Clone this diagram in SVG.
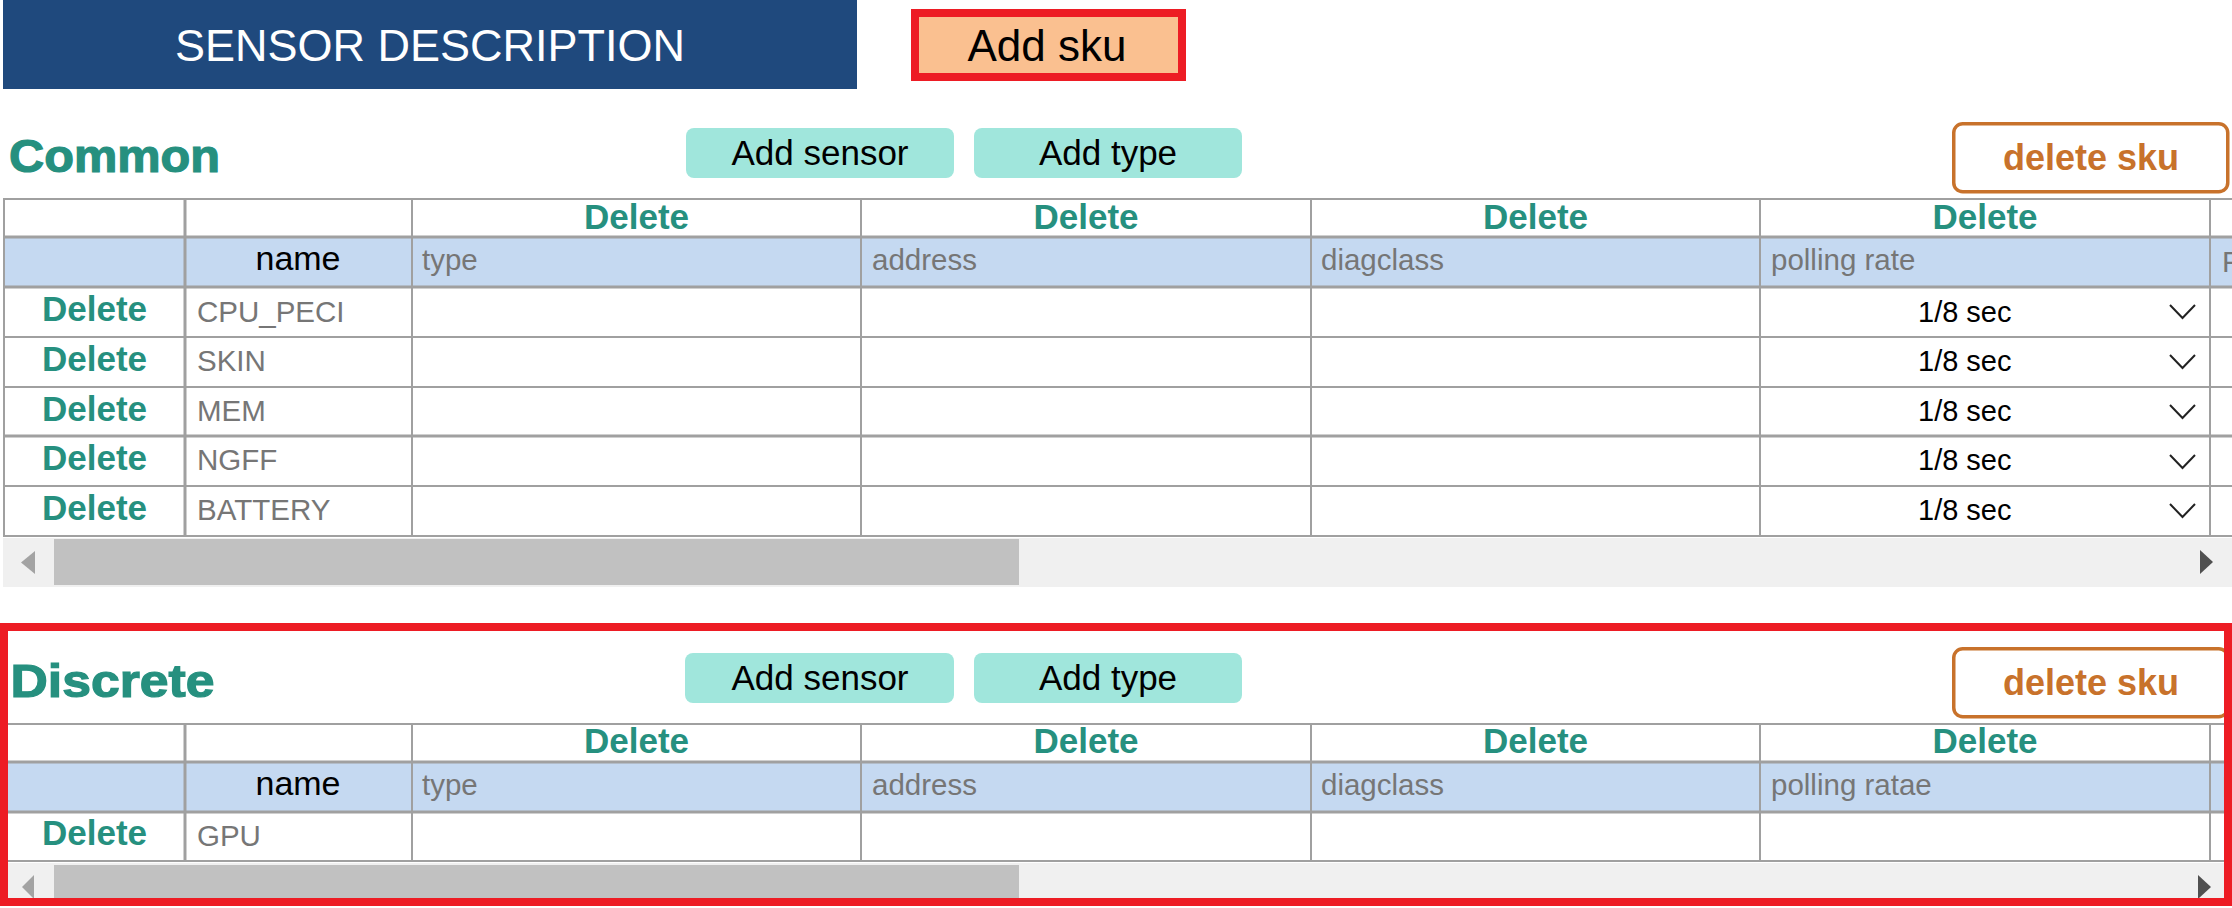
<svg xmlns="http://www.w3.org/2000/svg" width="2232" height="908" viewBox="0 0 2232 908">
<style>
text{font-family:"Liberation Sans",Arial,sans-serif}
.title{fill:#fff;font-size:45px;text-anchor:middle}
.btn{fill:#A0E6DC}
.btxt{fill:#000;font-size:35px;text-anchor:middle}
.sec{fill:#26907F;stroke:#26907F;stroke-width:1.2;font-size:46px;font-weight:bold}
.del{fill:#26907F;font-size:35px;font-weight:bold;text-anchor:middle}
.dsku{fill:#fff;stroke:#C8722B;stroke-width:3.5}
.dskut{fill:#C8722B;font-size:36px;font-weight:bold;text-anchor:middle}
.lbl{fill:#767676;font-size:29.5px}
.nm{fill:#000;font-size:34px;text-anchor:middle}
.val{fill:#000;font-size:29px}
.hdr{fill:#C5D9F1}
.g{stroke:#A0A0A0;stroke-width:2;fill:none}
.g3{stroke:#A0A0A0;stroke-width:3;fill:none}
.chev{stroke:#222;stroke-width:2;fill:none}
.track{fill:#F0F0F0}
.thumb{fill:#C1C1C1}
.la{fill:#A3A3A3}
.ra{fill:#505050}
</style>

<g id="title">
<rect x="3" y="0" width="854" height="89" fill="#1F497D"/>
<text class="title" x="430" y="61">SENSOR DESCRIPTION</text>
</g>

<g id="add-sku">
<rect x="915" y="13" width="267" height="64" fill="#FAC090" stroke="#ED1C24" stroke-width="8"/>
<text x="1047" y="61" font-size="44" text-anchor="middle" fill="#000">Add sku</text>
</g>

<!-- COMMON SECTION -->
<g id="common-title">
<text class="sec" x="9" y="172" textLength="211" lengthAdjust="spacingAndGlyphs">Common</text>
</g>
<g id="common-add-sensor">
<rect class="btn" x="686" y="128" width="268" height="50" rx="8"/>
<text class="btxt" x="820" y="165">Add sensor</text>
</g>
<g id="common-add-type">
<rect class="btn" x="974" y="128" width="268" height="50" rx="8"/>
<text class="btxt" x="1108" y="165">Add type</text>
</g>
<g id="common-delete-sku">
<rect class="dsku" x="1953.75" y="123.75" width="274" height="68" rx="9"/>
<text class="dskut" x="2091" y="170">delete sku</text>
</g>

<g id="common-table">
<rect class="hdr" x="4" y="237" width="2228" height="50"/>
<line class="g" x1="4" y1="199" x2="2232" y2="199"/>
<line class="g3" x1="4" y1="237" x2="2232" y2="237"/>
<line class="g3" x1="4" y1="287" x2="2232" y2="287"/>
<line class="g" x1="4" y1="337" x2="2232" y2="337"/>
<line class="g" x1="4" y1="387" x2="2232" y2="387"/>
<line class="g3" x1="4" y1="436" x2="2232" y2="436"/>
<line class="g" x1="4" y1="486" x2="2232" y2="486"/>
<line class="g" x1="4" y1="536" x2="2232" y2="536"/>
<line class="g" x1="4" y1="198" x2="4" y2="537"/>
<line class="g3" x1="185" y1="198" x2="185" y2="537"/>
<line class="g" x1="412" y1="198" x2="412" y2="537"/>
<line class="g" x1="861" y1="198" x2="861" y2="537"/>
<line class="g" x1="1311" y1="198" x2="1311" y2="537"/>
<line class="g" x1="1760" y1="198" x2="1760" y2="537"/>
<line class="g" x1="2210" y1="198" x2="2210" y2="537"/>
<text class="del" x="636.5" y="229">Delete</text>
<text class="del" x="1086" y="229">Delete</text>
<text class="del" x="1535.5" y="229">Delete</text>
<text class="del" x="1985" y="229">Delete</text>
<text class="nm" x="298" y="270">name</text>
<text class="lbl" x="422" y="270">type</text>
<text class="lbl" x="872" y="270">address</text>
<text class="lbl" x="1321" y="270">diagclass</text>
<text class="lbl" x="1771" y="270">polling rate</text>
<text class="lbl" x="2222" y="272">F</text>
<text class="del" x="94.5" y="321">Delete</text>
<text class="del" x="94.5" y="371">Delete</text>
<text class="del" x="94.5" y="421">Delete</text>
<text class="del" x="94.5" y="470">Delete</text>
<text class="del" x="94.5" y="520">Delete</text>
<text class="lbl" x="197" y="322">CPU_PECI</text>
<text class="lbl" x="197" y="371">SKIN</text>
<text class="lbl" x="197" y="421">MEM</text>
<text class="lbl" x="197" y="470">NGFF</text>
<text class="lbl" x="197" y="520">BATTERY</text>
<text class="val" x="1918" y="322">1/8 sec</text>
<text class="val" x="1918" y="371">1/8 sec</text>
<text class="val" x="1918" y="421">1/8 sec</text>
<text class="val" x="1918" y="470">1/8 sec</text>
<text class="val" x="1918" y="520">1/8 sec</text>
<polyline class="chev" points="2170,305 2182.5,318 2195,305"/>
<polyline class="chev" points="2170,355 2182.5,368 2195,355"/>
<polyline class="chev" points="2170,405 2182.5,418 2195,405"/>
<polyline class="chev" points="2170,455 2182.5,468 2195,455"/>
<polyline class="chev" points="2170,504 2182.5,517 2195,504"/>
</g>

<g id="common-scrollbar">
<rect class="track" x="3" y="538" width="2229" height="49"/>
<rect class="thumb" x="54" y="539" width="965" height="46"/>
<polygon class="la" points="35,551 21,562.5 35,574"/>
<polygon class="ra" points="2200,550 2213,562 2200,574"/>
</g>

<!-- DISCRETE SECTION -->
<g id="discrete-title">
<text class="sec" x="10.5" y="697" textLength="204" lengthAdjust="spacingAndGlyphs">Discrete</text>
</g>
<g id="discrete-add-sensor">
<rect class="btn" x="685" y="653" width="269" height="50" rx="8"/>
<text class="btxt" x="820" y="690">Add sensor</text>
</g>
<g id="discrete-add-type">
<rect class="btn" x="974" y="653" width="268" height="50" rx="8"/>
<text class="btxt" x="1108" y="690">Add type</text>
</g>
<g id="discrete-delete-sku">
<rect class="dsku" x="1953.75" y="648.75" width="274" height="68" rx="9"/>
<text class="dskut" x="2091" y="695">delete sku</text>
</g>

<g id="discrete-table">
<rect class="hdr" x="4" y="762" width="2228" height="50"/>
<line class="g" x1="4" y1="724" x2="2232" y2="724"/>
<line class="g3" x1="4" y1="762" x2="2232" y2="762"/>
<line class="g3" x1="4" y1="812" x2="2232" y2="812"/>
<line class="g" x1="4" y1="861" x2="2232" y2="861"/>
<line class="g3" x1="185" y1="723" x2="185" y2="862"/>
<line class="g" x1="412" y1="723" x2="412" y2="862"/>
<line class="g" x1="861" y1="723" x2="861" y2="862"/>
<line class="g" x1="1311" y1="723" x2="1311" y2="862"/>
<line class="g" x1="1760" y1="723" x2="1760" y2="862"/>
<line class="g" x1="2210" y1="723" x2="2210" y2="862"/>
<text class="del" x="636.5" y="753">Delete</text>
<text class="del" x="1086" y="753">Delete</text>
<text class="del" x="1535.5" y="753">Delete</text>
<text class="del" x="1985" y="753">Delete</text>
<text class="nm" x="298" y="795">name</text>
<text class="lbl" x="422" y="795">type</text>
<text class="lbl" x="872" y="795">address</text>
<text class="lbl" x="1321" y="795">diagclass</text>
<text class="lbl" x="1771" y="795">polling ratae</text>
<text class="lbl" x="2222" y="797">F</text>
<text class="del" x="94.5" y="845">Delete</text>
<text class="lbl" x="197" y="846">GPU</text>
</g>

<g id="discrete-scrollbar">
<rect class="track" x="3" y="863" width="2229" height="45"/>
<rect class="thumb" x="54" y="865" width="965" height="43"/>
<polygon class="la" points="34,875 22,887 34,899"/>
<polygon class="ra" points="2198,875 2211,887 2198,899"/>
</g>

<g id="discrete-highlight">
<rect x="4" y="627" width="2224" height="275" fill="none" stroke="#ED1C24" stroke-width="8"/>
<rect x="0" y="906" width="2232" height="2" fill="#fff"/>
</g>
</svg>
